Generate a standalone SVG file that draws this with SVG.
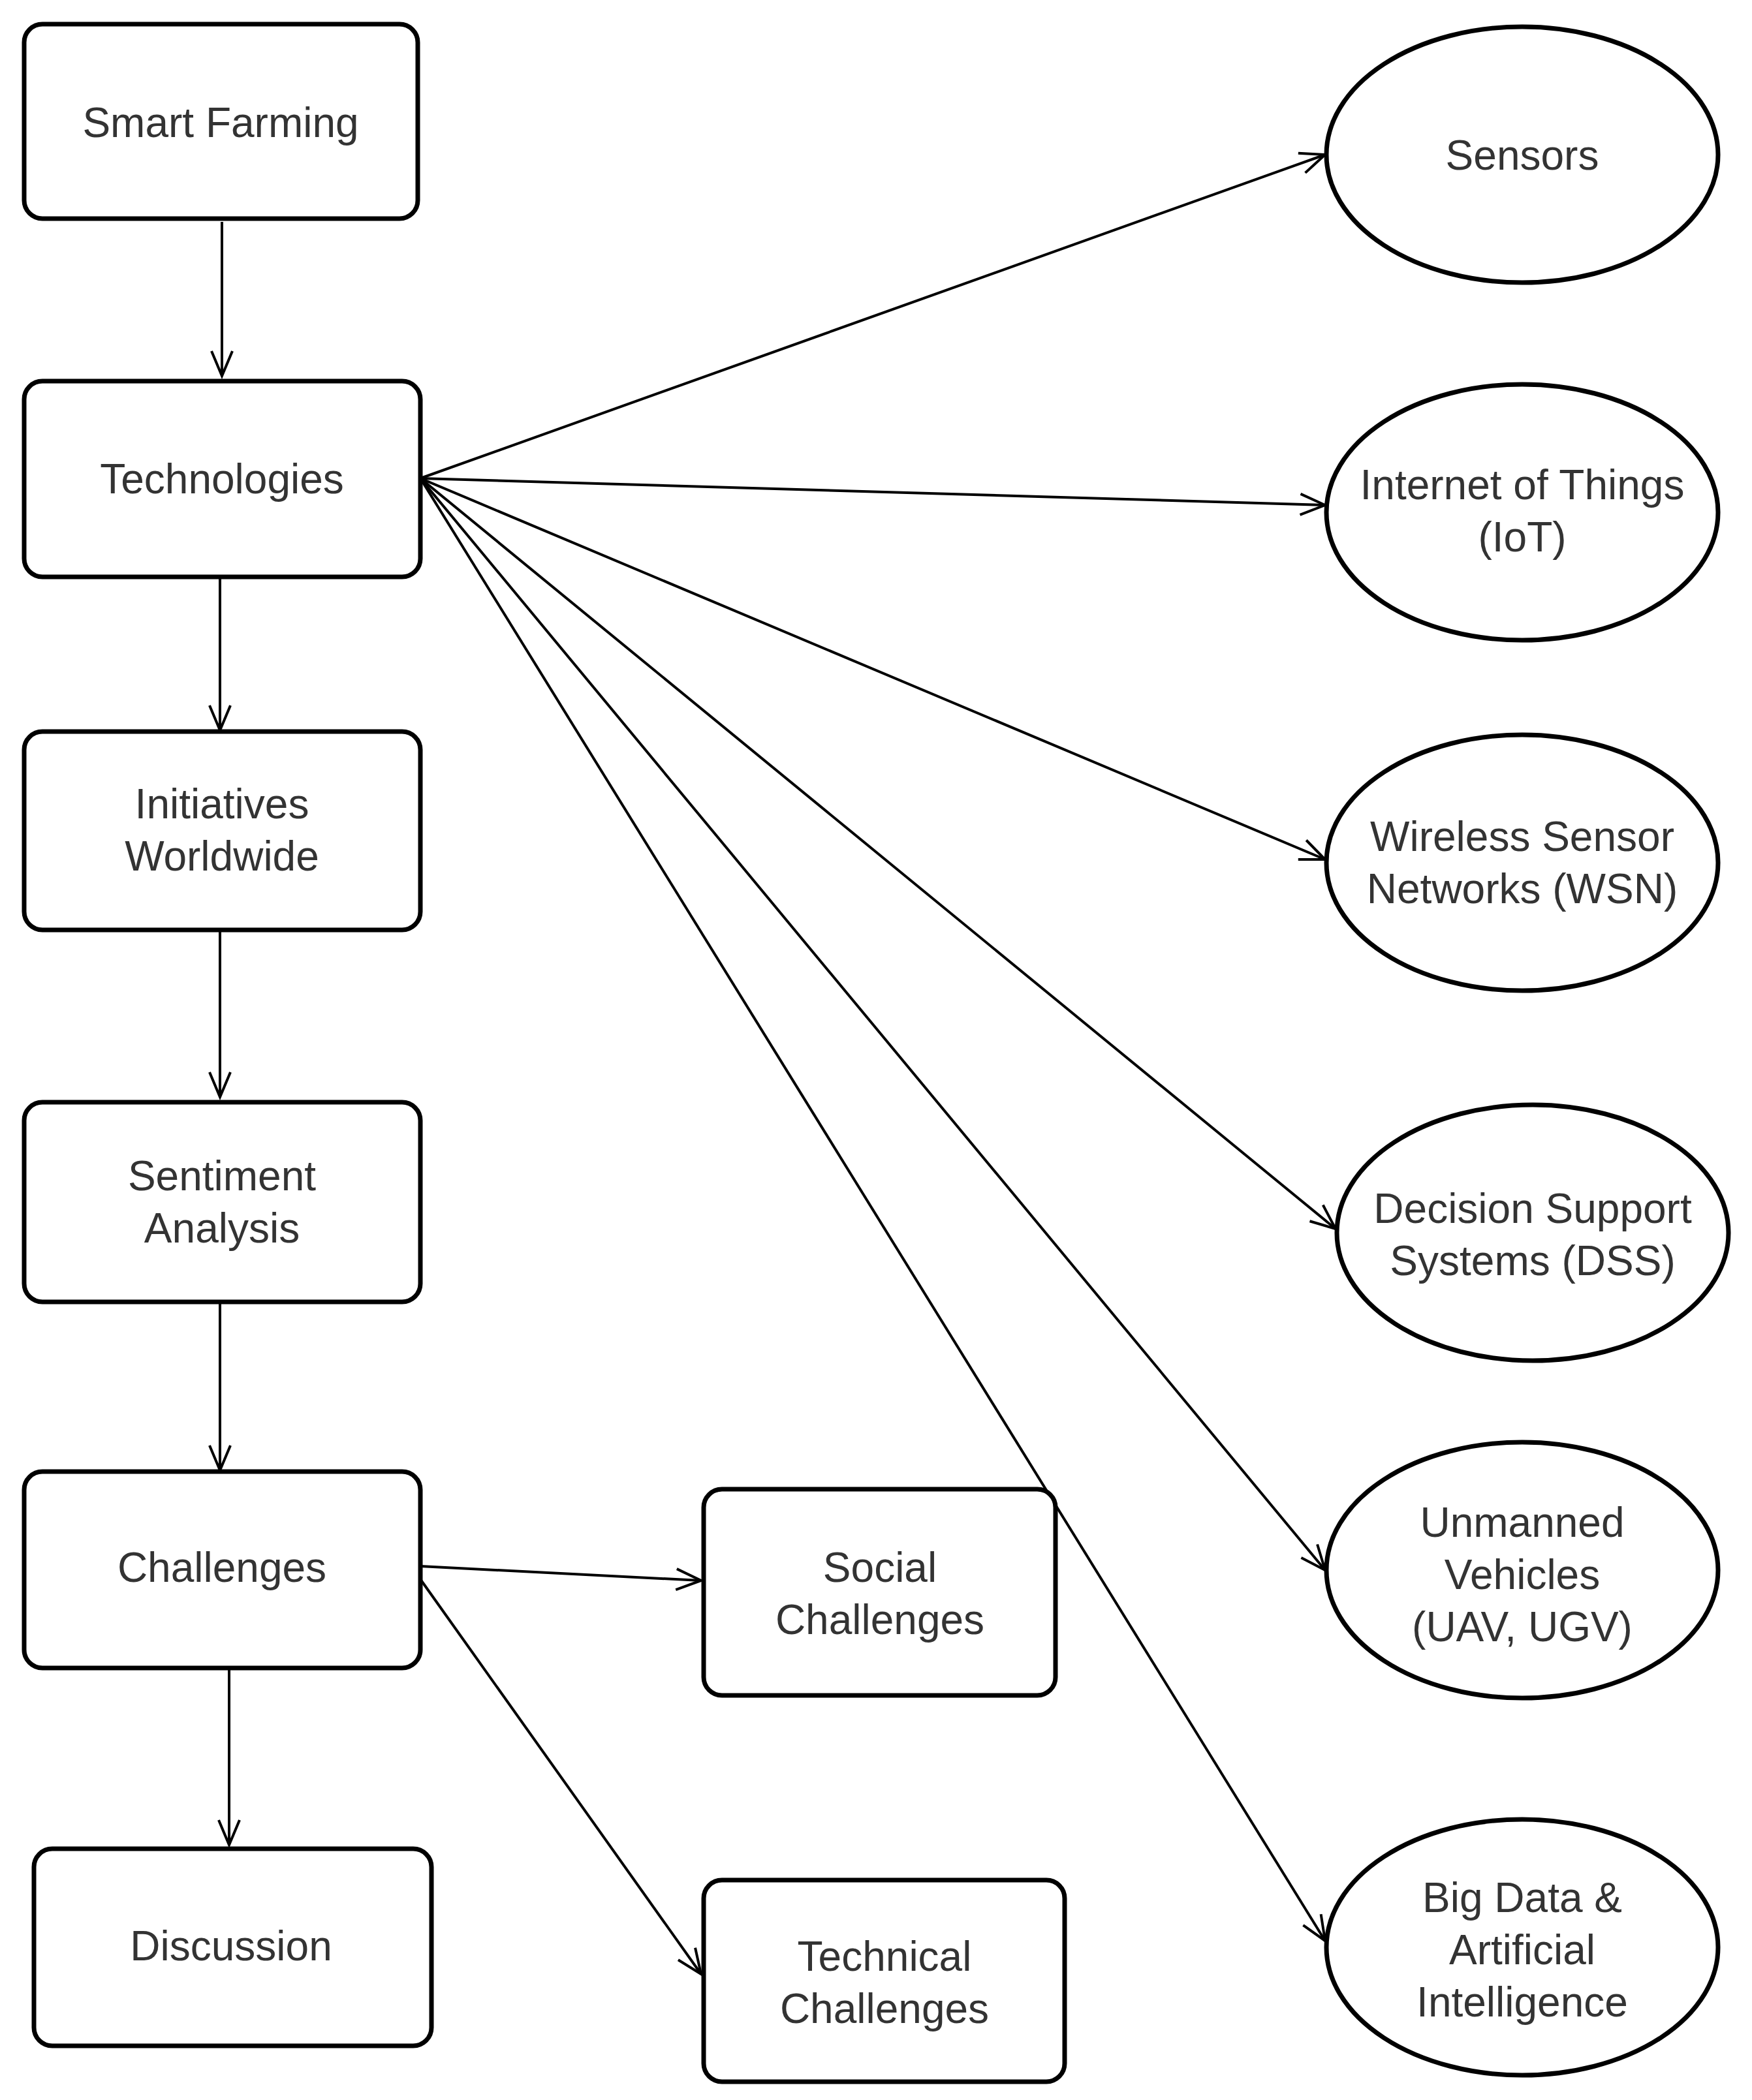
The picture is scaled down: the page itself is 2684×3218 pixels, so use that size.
<svg xmlns="http://www.w3.org/2000/svg" width="2684" height="3218" viewBox="0 0 2684 3218">
<style>
.box{fill:#fff;stroke:#000;stroke-width:7}
.ell{fill:#fff;stroke:#000;stroke-width:7}
.t{font-family:"Liberation Sans",Arial,sans-serif;font-size:64px;fill:#333;text-anchor:middle}
.c{stroke:#000;stroke-width:4;fill:none;marker-end:url(#a)}
</style>
<defs>
<marker id="a" viewBox="0 0 20 20" refX="19" refY="10" markerWidth="40" markerHeight="40" markerUnits="userSpaceOnUse" orient="auto" style="overflow:visible">
<path d="M0,2 L19,10 L0,18" fill="none" stroke="#000" stroke-width="2"/>
</marker>
</defs>
<rect width="2684" height="3218" fill="#fff"/>
<g id="connectors">
<line class="c" x1="340" y1="340" x2="340" y2="576"/>
<line class="c" x1="337" y1="884" x2="337" y2="1119"/>
<line class="c" x1="337" y1="1404" x2="337" y2="1681"/>
<line class="c" x1="337" y1="1978" x2="337" y2="2253"/>
<line class="c" x1="351" y1="2556" x2="351" y2="2827"/>
<line class="c" x1="644" y1="733" x2="2030" y2="237"/>
<line class="c" x1="644" y1="733" x2="2030" y2="774"/>
<line class="c" x1="644" y1="733" x2="2030" y2="1317"/>
<line class="c" x1="644" y1="733" x2="2046" y2="1883"/>
<line class="c" x1="644" y1="733" x2="2030" y2="2406"/>
<line class="c" x1="644" y1="733" x2="2030" y2="2974"/>
<line class="c" x1="644" y1="2400" x2="1074" y2="2422"/>
<line class="c" x1="644" y1="2420" x2="1074" y2="3025"/>
</g>
<g id="smart"><rect class="box" x="37" y="37" width="603" height="298" rx="28"/><text class="t" x="338" y="210">Smart Farming</text></g>
<g id="tech"><rect class="box" x="37" y="584" width="607" height="300" rx="28"/><text class="t" x="340" y="756">Technologies</text></g>
<g id="init"><rect class="box" x="37" y="1121" width="607" height="304" rx="28"/><text class="t" x="340" y="1254">Initiatives</text><text class="t" x="340" y="1334">Worldwide</text></g>
<g id="sent"><rect class="box" x="37" y="1689" width="607" height="306" rx="28"/><text class="t" x="340" y="1824">Sentiment</text><text class="t" x="340" y="1904">Analysis</text></g>
<g id="chal"><rect class="box" x="37" y="2255" width="607" height="301" rx="28"/><text class="t" x="340" y="2424">Challenges</text></g>
<g id="disc"><rect class="box" x="52" y="2833" width="609" height="302" rx="28"/><text class="t" x="354" y="3004">Discussion</text></g>
<g id="social"><rect class="box" x="1078" y="2282" width="539" height="316" rx="28"/><text class="t" x="1348" y="2424">Social</text><text class="t" x="1348" y="2504">Challenges</text></g>
<g id="technical"><rect class="box" x="1078" y="2881" width="553" height="309" rx="28"/><text class="t" x="1355" y="3020">Technical</text><text class="t" x="1355" y="3100">Challenges</text></g>
<g id="sensors"><ellipse class="ell" cx="2332" cy="237" rx="300" ry="196"/><text class="t" x="2332" y="260">Sensors</text></g>
<g id="iot"><ellipse class="ell" cx="2332" cy="785" rx="300" ry="196"/><text class="t" x="2332" y="765">Internet of Things</text><text class="t" x="2332" y="845">(IoT)</text></g>
<g id="wsn"><ellipse class="ell" cx="2332" cy="1322" rx="300" ry="196"/><text class="t" x="2332" y="1304">Wireless Sensor</text><text class="t" x="2332" y="1384">Networks (WSN)</text></g>
<g id="dss"><ellipse class="ell" cx="2348" cy="1889" rx="300" ry="196"/><text class="t" x="2348" y="1874">Decision Support</text><text class="t" x="2348" y="1954">Systems (DSS)</text></g>
<g id="uav"><ellipse class="ell" cx="2332" cy="2406" rx="300" ry="196"/><text class="t" x="2332" y="2355">Unmanned</text><text class="t" x="2332" y="2435">Vehicles</text><text class="t" x="2332" y="2515">(UAV, UGV)</text></g>
<g id="bigdata"><ellipse class="ell" cx="2332" cy="2984" rx="300" ry="196"/><text class="t" x="2332" y="2930">Big Data &amp;</text><text class="t" x="2332" y="3010">Artificial</text><text class="t" x="2332" y="3090">Intelligence</text></g>
</svg>
